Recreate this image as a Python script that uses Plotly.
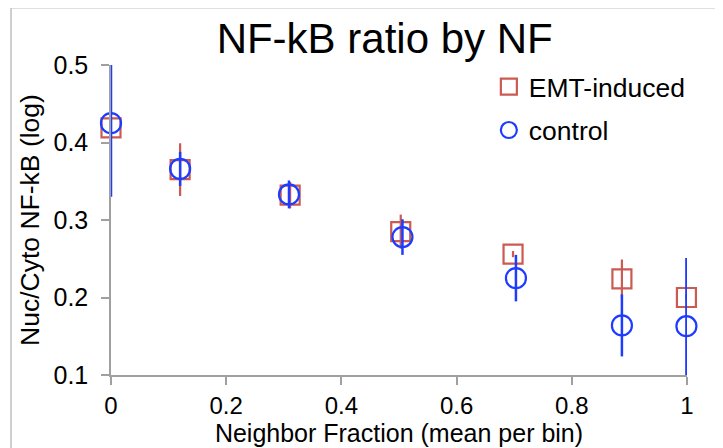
import plotly.graph_objects as go

x_emt = [0.0, 0.12, 0.311, 0.503, 0.698, 0.887, 0.999]
y_emt = [0.419, 0.365, 0.332, 0.285, 0.256, 0.224, 0.200]
err_emt = [0.010, 0.034, 0.017, 0.022, 0.004, 0.025, 0.004]

x_ctl = [0.0, 0.12, 0.309, 0.506, 0.703, 0.887, 0.999]
y_ctl = [0.425, 0.366, 0.333, 0.278, 0.225, 0.164, 0.163]
err_ctl_plus = [0.075, 0.022, 0.018, 0.023, 0.030, 0.040, 0.088]
err_ctl_minus = [0.095, 0.022, 0.018, 0.023, 0.030, 0.040, 0.063]

x_ticks = [0, 0.2, 0.4, 0.6, 0.8, 1]
x_ticktext = ["0", "0.2", "0.4", "0.6", "0.8", "1"]
y_ticks = [0.1, 0.2, 0.3, 0.4, 0.5]
y_ticktext = ["0.1", "0.2", "0.3", "0.4", "0.5"]

RED = "#CB5A52"
BLUE = "#1E3CFF"
FONT = "Liberation Sans, Arial, sans-serif"

fig = go.Figure()
fig.add_trace(go.Scatter(
    x=x_emt, y=y_emt, mode="markers", name="EMT-induced", legendgroup="emt",
    marker=dict(symbol="square-open", size=19, color=RED, line=dict(width=2.2, color=RED)),
    error_y=dict(type="data", array=err_emt, visible=True, color=RED, thickness=2.2, width=0),
    cliponaxis=False,
))
fig.add_trace(go.Scatter(
    x=x_ctl, y=y_ctl, mode="markers", name="control", legendgroup="ctl",
    marker=dict(symbol="circle-open", size=20, color=BLUE, line=dict(width=2.2, color=BLUE)),
    error_y=dict(type="data", symmetric=False, array=err_ctl_plus, arrayminus=err_ctl_minus,
                 visible=True, color=BLUE, thickness=2.5, width=0),
    cliponaxis=False,
))

axis_common = dict(
    showgrid=False, zeroline=False, showline=True, linecolor="#A0A0A0", linewidth=1.5,
    ticks="outside", ticklen=8, tickwidth=1.5, tickcolor="#A0A0A0", automargin=False,
)

fig.update_layout(
    width=715, height=440,
    margin=dict(l=103, r=36, t=57, b=73),
    paper_bgcolor="white", plot_bgcolor="white",
    font=dict(family=FONT, color="black"),
    title=dict(text="NF-kB ratio by NF", x=0.5268, xref="container", xanchor="center",
               y=0.9307, yref="container", yanchor="middle",
               font=dict(family=FONT, size=42, color="black")),
    xaxis=dict(range=[0, 1], tickvals=x_ticks, ticktext=x_ticktext, ticklabelstandoff=0,
               tickfont=dict(family=FONT, size=24, color="black"),
               title=dict(text="Neighbor Fraction (mean per bin)", standoff=0,
                          font=dict(family=FONT, size=25, color="black")),
               **axis_common),
    yaxis=dict(range=[0.1, 0.5], tickvals=y_ticks, ticktext=y_ticktext, ticklabelstandoff=8,
               tickfont=dict(family=FONT, size=25, color="black"),
               title=dict(text="Nuc/Cyto NF-kB (log)", standoff=6,
                          font=dict(family=FONT, size=26.5, color="black")),
               **axis_common),
    legend=dict(x=0.656, y=1.007, xanchor="left", yanchor="top",
                bgcolor="rgba(0,0,0,0)", font=dict(family=FONT, size=26.5, color="black"),
                itemwidth=30, tracegroupgap=6),
    showlegend=True,
    shapes=[dict(type="rect", xref="paper", yref="paper",
                 x0=-0.1736, x1=1.052, y0=-0.4, y1=1.185,
                 line=dict(color="#BFBFBF", width=1.5), layer="below")],
)

fig.write_html("out.html")
